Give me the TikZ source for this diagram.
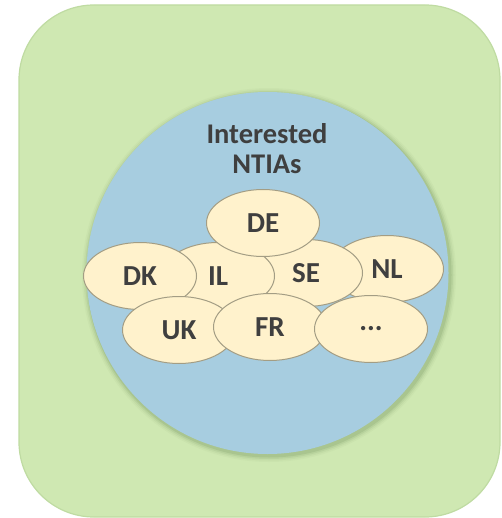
\documentclass[tikz,border=0pt]{standalone}
\usepackage{fontspec}
\setmainfont{Carlito}
\usetikzlibrary{shapes.geometric}
\definecolor{boxgreen}{HTML}{CFE8B2}
\definecolor{boxedge}{HTML}{BFDBA2}
\definecolor{circblue}{HTML}{A7CDE0}
\definecolor{shadowcol}{HTML}{6E8A55}
\definecolor{cream}{HTML}{FFF2CC}
\definecolor{creamedge}{HTML}{A39D84}
\definecolor{txt}{HTML}{3F3F3F}
\tikzset{
  outerbox/.style={rectangle, rounded corners=75pt, fill=boxgreen, draw=boxedge, line width=1.2pt, minimum width=481pt, minimum height=512pt, inner sep=0pt},
  group/.style={circle, fill=circblue, minimum size=362pt, inner sep=0pt},
  member/.style={ellipse, fill=cream, draw=creamedge, line width=1pt, minimum width=113pt, minimum height=67pt, inner sep=0pt, text=txt, font=\fontsize{29}{30}\selectfont\bfseries},
  title/.style={align=center, text=txt, font=\fontsize{28.5}{30}\selectfont\bfseries, inner sep=0pt}
}
\begin{document}
\begin{tikzpicture}[x=1pt,y=-1pt]
\useasboundingbox (0,0) rectangle (501,518);
\node[outerbox] (box) at (259.5,261) {};
% soft shadow round the circle
\foreach \r/\o in {187/0.05,185.5/0.08,184/0.12,182.5/0.18}{
  \fill[shadowcol,opacity=\o] (269,275) circle (\r);
}
\node[group] (grp) at (267.5,273) {};
\node[title] (ttl) at (267,149) {Interested\\NTIAs};
\node[member] (nl) at (387,269) {NL};
\node[member] (se) at (306,273) {SE};
\node[member] (il) at (218,276) {IL};
\node[member] (de) at (263,223) {DE};
\node[member] (dk) at (140,276) {DK};
\node[member] (uk) at (179,330) {UK};
\node[member] (fr) at (270,327) {FR};
\node[member] (more) at (371,329) {...};
\end{tikzpicture}
\end{document}
